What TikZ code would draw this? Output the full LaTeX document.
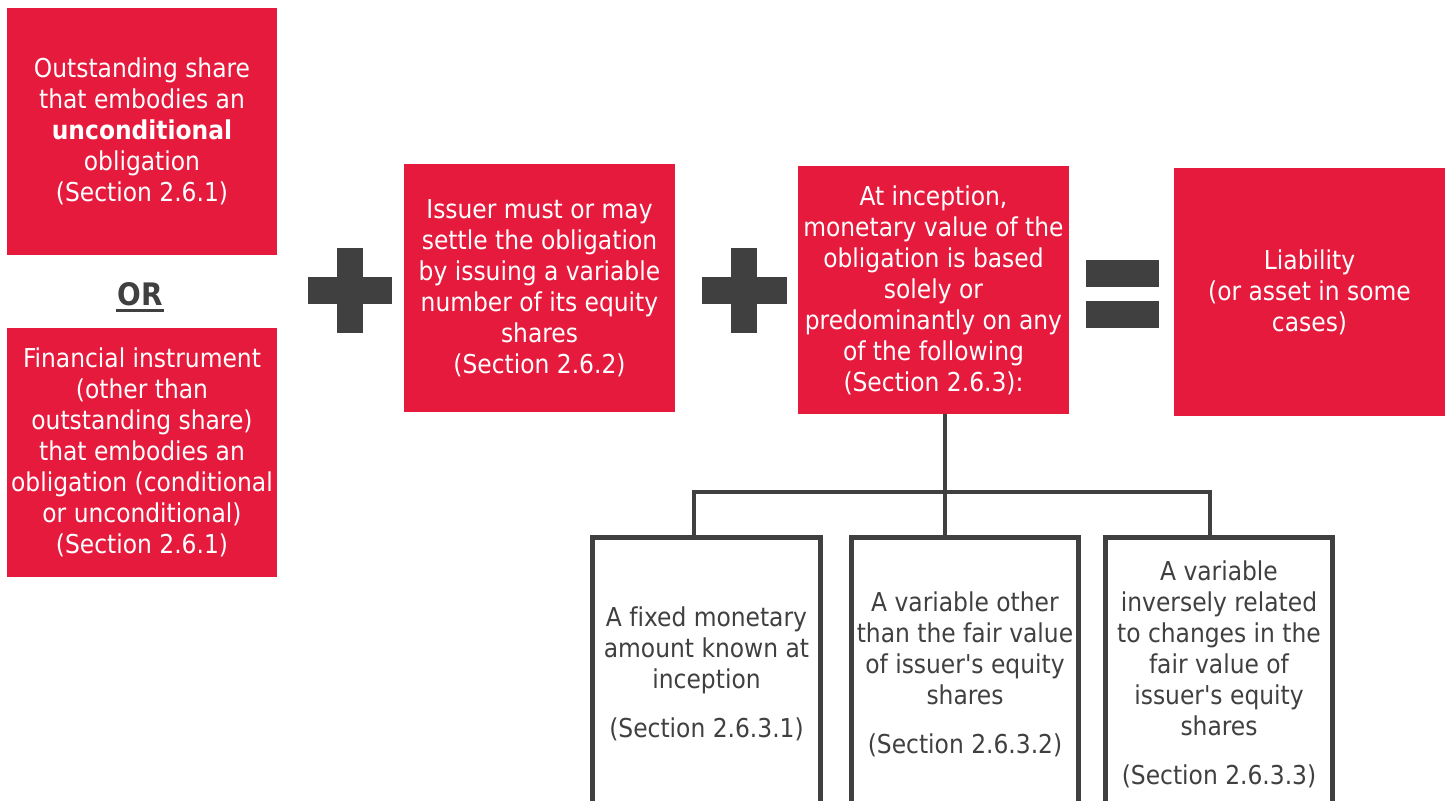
\documentclass[tikz,border=0pt]{standalone}
\usepackage{fontspec}
\setmainfont[Ligatures={NoCommon}]{DejaVu Sans Condensed}
\usetikzlibrary{calc}
\definecolor{brandred}{HTML}{E61A3D}
\definecolor{ink}{HTML}{404040}
\newcommand{\boxfont}{\fontsize{13}{15.5}\selectfont}
\newcommand{\apos}{\textquotesingle}
\begin{document}
\begin{tikzpicture}[x=0.5pt,y=-0.5pt,
  redbox/.style={fill=brandred, text=white, inner sep=0pt, align=center, font=\boxfont},
  optbox/.style={draw=ink, line width=2.5pt, text=ink, inner sep=0pt, align=center, font=\boxfont,
                 minimum height=136pt},
  conn/.style={draw=ink, line width=2pt},
  sign/.style={fill=ink}]
% canvas
\clip (0,0) rectangle (1447,801);
\fill[white] (0,0) rectangle (1447,801);

% first condition: either of two kinds of obligation
\node[redbox, minimum width=135pt, minimum height=123.5pt] (share) at (142,131.5)
  {Outstanding share\\that embodies an\\\textbf{unconditional}\\obligation\\(Section 2.6.1)};
\node[text=ink, font=\fontsize{15.5}{18}\selectfont\bfseries, inner sep=0pt, anchor=base] (or) at (140,306) {OR};
\draw[ink, line width=1.5pt] ($(or.base west)+(-1,4.5)$) -- ($(or.base east)+(1,4.5)$);
\node[redbox, minimum width=135pt, minimum height=124.5pt] (instr) at (142,452.5)
  {Financial instrument\\(other than\\outstanding share)\\that embodies an\\obligation (conditional\\or unconditional)\\(Section 2.6.1)};

% second and third conditions, and the result
\node[redbox, minimum width=135.5pt, minimum height=124pt] (settle) at (539.5,288)
  {Issuer must or may\\settle the obligation\\by issuing a variable\\number of its equity\\shares\\(Section 2.6.2)};
\node[redbox, minimum width=135.5pt, minimum height=124pt] (cond) at (933.5,290)
  {At inception,\\monetary value of the\\obligation is based\\solely or\\predominantly on any\\of the following\\(Section 2.6.3):};
\node[redbox, minimum width=135.5pt, minimum height=124pt] (result) at (1309.5,292)
  {Liability\\(or asset in some\\cases)};

% plus, plus, equals
\fill[sign] (308,277) rectangle (392,304);
\fill[sign] (337,248) rectangle (363,333);
\fill[sign] (702,277) rectangle (787,304);
\fill[sign] (731,248) rectangle (757,333);
\fill[sign] (1086,260) rectangle (1159,287);
\fill[sign] (1086,301) rectangle (1159,328);

% the three alternatives (open at the bottom edge)
\node[optbox, minimum width=114pt] (opta) at (706.5,674)
  {A fixed monetary\\amount known at\\inception\\[9pt](Section 2.6.3.1)};
\node[optbox, minimum width=113.5pt] (optb) at (965,674)
  {A variable other\\than the fair value\\of issuer\apos s equity\\shares\\[9pt](Section 2.6.3.2)};
\node[optbox, minimum width=113.5pt] (optc) at (1219,674)
  {A variable\\inversely related\\to changes in the\\fair value of\\issuer\apos s equity\\shares\\[9pt](Section 2.6.3.3)};

% branching connector
\coordinate (hub) at (945,492);
\draw[conn] (hub |- cond.south) -- (hub);
\draw[conn] (hub) -- (hub |- optb.north);
\draw[conn] ($(opta.north)+(-12.5,0)$) |- (hub) -| ($(optc.north)+(-9,0)$);
\end{tikzpicture}
\end{document}
